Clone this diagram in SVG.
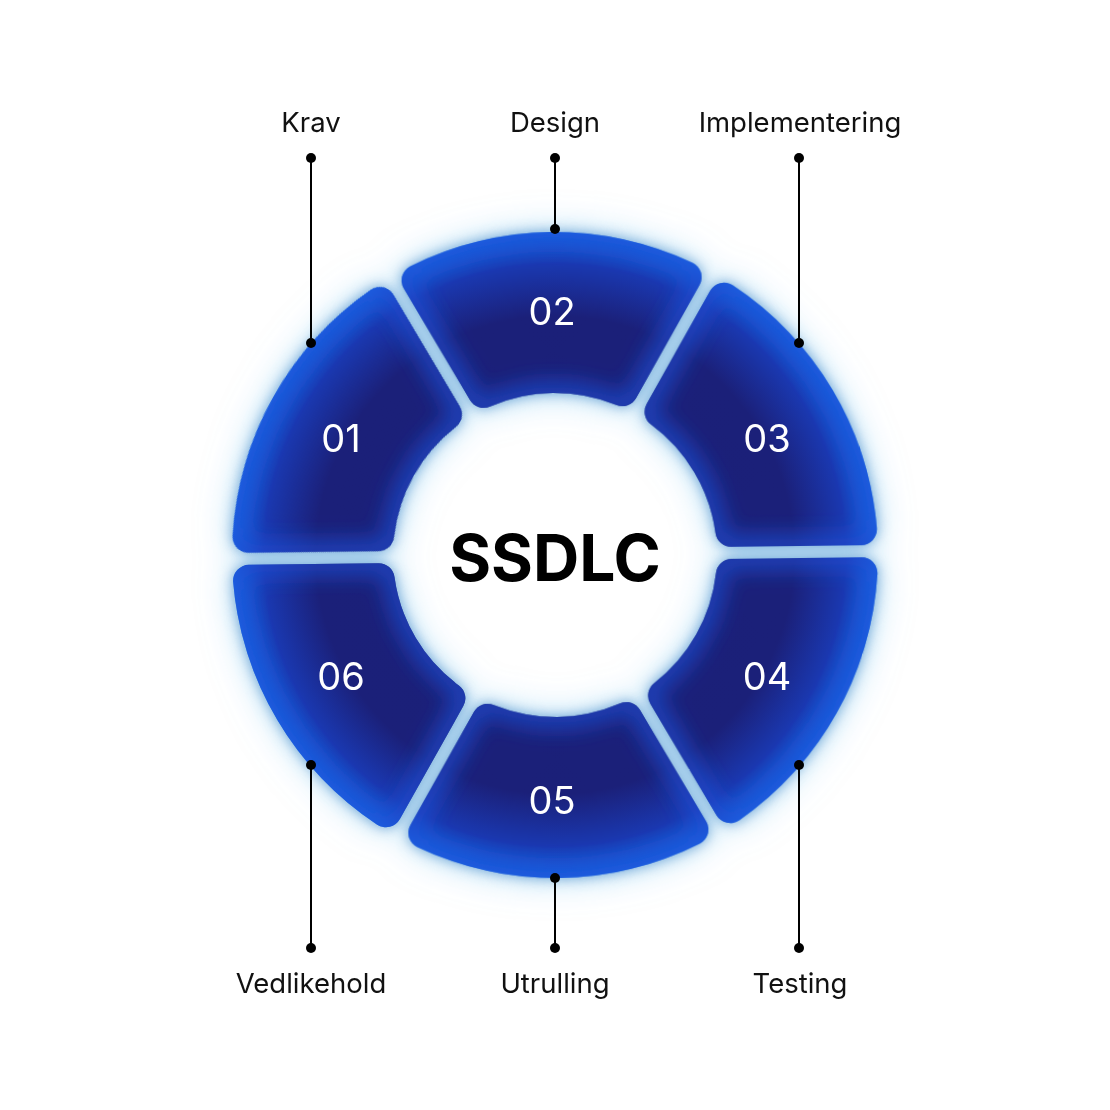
<svg xmlns="http://www.w3.org/2000/svg" xmlns:xlink="http://www.w3.org/1999/xlink" width="1110" height="1110" viewBox="0 0 1110 1110">
<style>
.lbl{font-family:Inter,"Liberation Sans",sans-serif;font-size:27.5px;fill:#111;text-anchor:middle}
.num{font-family:Inter,"Liberation Sans",sans-serif;font-size:38px;fill:#fff;text-anchor:middle}
.title{font-family:Inter,"Liberation Sans",sans-serif;font-size:64px;font-weight:700;fill:#000;text-anchor:middle}
.ln{stroke:#000;stroke-width:2;fill:none}
.dot{fill:#000}
.seg{fill:url(#segfill)}
.edge{fill:none;stroke:#1c4fd6;stroke-width:26;stroke-opacity:0.65;filter:url(#soft);clip-path:url(#cp)}
</style>
<defs>
<radialGradient id="segfill" gradientUnits="userSpaceOnUse" cx="0" cy="0" r="323">
<stop offset="0" stop-color="#1b1f78"/>
<stop offset="0.74" stop-color="#1b2079"/>
<stop offset="0.9" stop-color="#1a38b0"/>
<stop offset="1" stop-color="#1768e6"/>
</radialGradient>
<filter id="soft" x="-20%" y="-20%" width="140%" height="140%">
<feGaussianBlur stdDeviation="10"/>
</filter>
<filter id="glow" x="-20%" y="-20%" width="140%" height="140%">
<feGaussianBlur in="SourceAlpha" stdDeviation="7" result="b1"/>
<feFlood flood-color="#5c95cc" flood-opacity="0.9"/>
<feComposite in2="b1" operator="in" result="g1"/>
<feGaussianBlur in="SourceAlpha" stdDeviation="18" result="b2"/>
<feFlood flood-color="#78c4f0" flood-opacity="0.55"/>
<feComposite in2="b2" operator="in" result="g2"/>
<feMerge><feMergeNode in="g2"/><feMergeNode in="g1"/></feMerge>
</filter>
<path id="segshape" d="M -141.04 -290.58 A 323 323 0 0 1 141.04 -290.58 A 16 16 0 0 1 147.91 -268.18 L 83.12 -155.97 A 16 16 0 0 1 63.04 -149.23 A 162 162 0 0 0 -63.04 -149.23 A 16 16 0 0 1 -83.12 -155.97 L -147.91 -268.18 A 16 16 0 0 1 -141.04 -290.58 Z"/>
<clipPath id="cp"><use xlink:href="#segshape"/></clipPath>
</defs>
<rect width="1110" height="1110" fill="#fff"/>
<g id="ring" transform="rotate(-0.7 555 555)">
<g id="glow-layer" filter="url(#glow)">
<use xlink:href="#segshape" transform="translate(555 555) rotate(0)"/>
<use xlink:href="#segshape" transform="translate(555 555) rotate(60)"/>
<use xlink:href="#segshape" transform="translate(555 555) rotate(120)"/>
<use xlink:href="#segshape" transform="translate(555 555) rotate(180)"/>
<use xlink:href="#segshape" transform="translate(555 555) rotate(240)"/>
<use xlink:href="#segshape" transform="translate(555 555) rotate(300)"/>
</g>
<g id="seg-01" transform="translate(555 555) rotate(300)"><use class="seg" xlink:href="#segshape"/><use class="edge" xlink:href="#segshape"/></g>
<g id="seg-02" transform="translate(555 555) rotate(0)"><use class="seg" xlink:href="#segshape"/><use class="edge" xlink:href="#segshape"/></g>
<g id="seg-03" transform="translate(555 555) rotate(60)"><use class="seg" xlink:href="#segshape"/><use class="edge" xlink:href="#segshape"/></g>
<g id="seg-04" transform="translate(555 555) rotate(120)"><use class="seg" xlink:href="#segshape"/><use class="edge" xlink:href="#segshape"/></g>
<g id="seg-05" transform="translate(555 555) rotate(180)"><use class="seg" xlink:href="#segshape"/><use class="edge" xlink:href="#segshape"/></g>
<g id="seg-06" transform="translate(555 555) rotate(240)"><use class="seg" xlink:href="#segshape"/><use class="edge" xlink:href="#segshape"/></g>
</g>
<g id="numbers">
<text class="num" x="341" y="452">01</text>
<text class="num" x="552" y="325">02</text>
<text class="num" x="767" y="452">03</text>
<text class="num" x="767" y="690">04</text>
<text class="num" x="552" y="814">05</text>
<text class="num" x="341" y="690">06</text>
</g>
<g id="center"><text class="title" x="555" y="581">SSDLC</text></g>
<g id="connectors">
<line class="ln" x1="311" y1="158" x2="311" y2="343"/>
<circle class="dot" cx="311" cy="158" r="5"/><circle class="dot" cx="311" cy="343" r="5"/>
<line class="ln" x1="555" y1="158" x2="555" y2="229"/>
<circle class="dot" cx="555" cy="158" r="5"/><circle class="dot" cx="555" cy="229" r="5"/>
<line class="ln" x1="799" y1="158" x2="799" y2="343"/>
<circle class="dot" cx="799" cy="158" r="5"/><circle class="dot" cx="799" cy="343" r="5"/>
<line class="ln" x1="311" y1="765" x2="311" y2="948"/>
<circle class="dot" cx="311" cy="765" r="5"/><circle class="dot" cx="311" cy="948" r="5"/>
<line class="ln" x1="555" y1="878" x2="555" y2="948"/>
<circle class="dot" cx="555" cy="878" r="5"/><circle class="dot" cx="555" cy="948" r="5"/>
<line class="ln" x1="799" y1="765" x2="799" y2="948"/>
<circle class="dot" cx="799" cy="765" r="5"/><circle class="dot" cx="799" cy="948" r="5"/>
</g>
<g id="labels">
<text class="lbl" x="311" y="132">Krav</text>
<text class="lbl" x="555" y="132">Design</text>
<text class="lbl" x="800" y="132">Implementering</text>
<text class="lbl" x="311" y="993">Vedlikehold</text>
<text class="lbl" x="555" y="993">Utrulling</text>
<text class="lbl" x="800" y="993">Testing</text>
</g>
</svg>
